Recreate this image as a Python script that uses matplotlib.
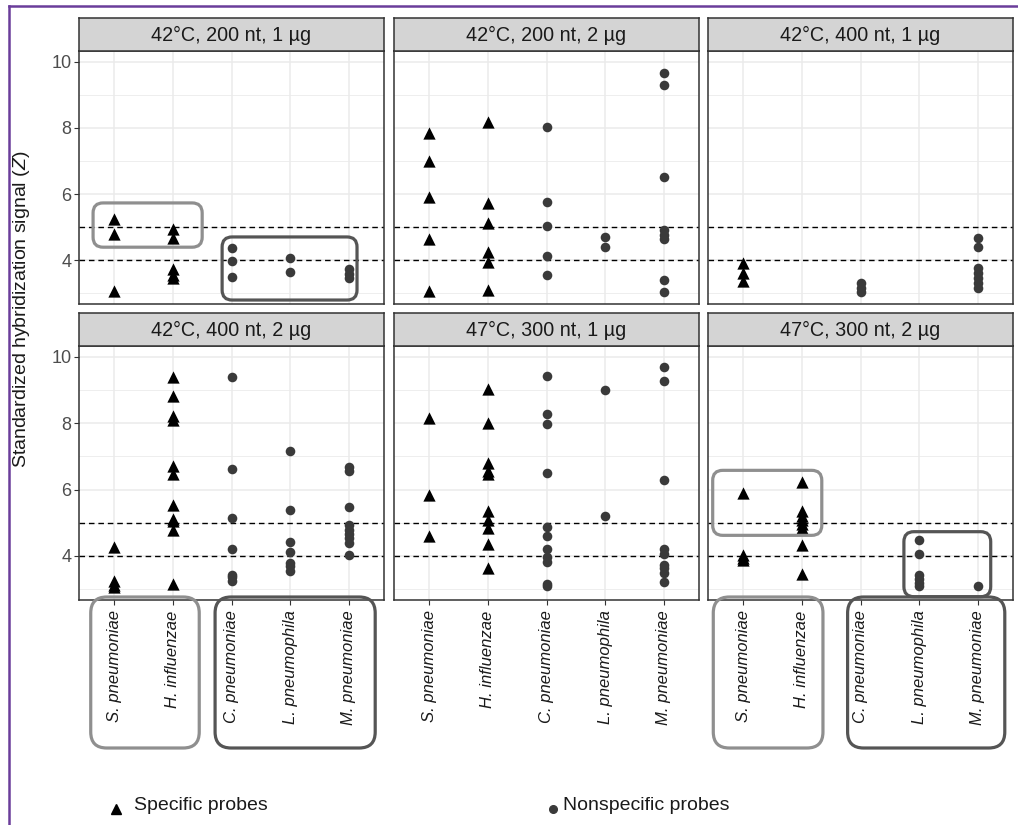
import matplotlib
matplotlib.use("Agg")
import matplotlib.pyplot as plt
from matplotlib.patches import FancyBboxPatch
from matplotlib.lines import Line2D
from matplotlib.transforms import IdentityTransform

plt.rcParams["font.family"] = ["Liberation Sans", "DejaVu Sans"]
plt.rcParams["mathtext.fontset"] = "custom"
plt.rcParams["mathtext.rm"] = "Liberation Sans"
plt.rcParams["mathtext.it"] = "Liberation Sans:italic"

W, H = 1018, 825

# species on the x axis; first two carry specific probes
SPECIES = ["S. pneumoniae", "H. influenzae", "C. pneumoniae",
           "L. pneumophila", "M. pneumoniae"]
SPECIFIC = [True, True, False, False, False]

CONDITIONS = ["42°C, 200 nt, 1 µg", "42°C, 200 nt, 2 µg", "42°C, 400 nt, 1 µg",
              "42°C, 400 nt, 2 µg", "47°C, 300 nt, 1 µg", "47°C, 300 nt, 2 µg"]

# standardized hybridization signal Z, one list per species
z_42_200_1 = [[5.25, 4.78, 3.05],
              [4.94, 4.67, 3.73, 3.55, 3.45],
              [4.36, 3.97, 3.48],
              [4.06, 3.64],
              [3.73, 3.58, 3.45]]
z_42_200_2 = [[7.85, 7.0, 5.91, 4.64, 3.06],
              [8.18, 5.73, 5.12, 4.24, 3.94, 3.09],
              [8.03, 5.76, 5.03, 4.12, 3.55],
              [4.70, 4.39],
              [9.67, 9.30, 6.52, 4.91, 4.76, 4.64, 3.39, 3.03]]
z_42_400_1 = [[3.9, 3.62, 3.38],
              [],
              [3.3, 3.15, 3.03],
              [],
              [4.67, 4.39, 3.76, 3.6, 3.45, 3.3, 3.15]]
z_42_400_2 = [[4.26, 3.25, 3.13, 3.05],
              [9.41, 8.82, 8.23, 8.09, 6.71, 6.48, 5.55, 5.11, 5.04, 4.77, 3.15],
              [9.39, 6.63, 5.14, 4.2, 3.43, 3.35, 3.25],
              [7.17, 5.39, 4.43, 4.12, 3.79, 3.69, 3.55],
              [6.68, 6.56, 5.46, 4.94, 4.77, 4.65, 4.53, 4.40, 4.04]]
z_47_300_1 = [[8.16, 5.84, 4.6],
              [9.04, 8.02, 6.80, 6.55, 6.46, 5.34, 5.09, 4.85, 4.37, 3.63],
              [9.43, 8.29, 7.98, 6.51, 4.88, 4.6, 4.2, 3.96, 3.82, 3.15, 3.08],
              [8.99, 5.21],
              [9.71, 9.27, 6.30, 4.20, 4.07, 3.74, 3.62, 3.48, 3.2]]
z_47_300_2 = [[5.90, 4.02, 3.94, 3.89],
              [6.23, 5.36, 5.21, 5.08, 4.96, 4.84, 4.33, 3.46],
              [],
              [4.47, 4.06, 3.43, 3.30, 3.18, 3.08],
              [3.10]]
PANEL_DATA = [z_42_200_1, z_42_200_2, z_42_400_1, z_42_400_2, z_47_300_1, z_47_300_2]

THRESHOLDS = [4, 5]

LIGHT = "#8f8f8f"
DARK = "#555555"

# highlight boxes inside panels: (panel, x0, x1, y0, y1, colour)
INNER_BOXES = [(0, 0.64, 2.50, 4.39, 5.73, LIGHT),
               (0, 2.84, 5.14, 2.79, 4.70, DARK),
               (5, 0.48, 2.34, 4.62, 6.58, LIGHT),
               (5, 3.74, 5.22, 2.77, 4.73, DARK)]
# boxes around tick labels: (panel, x0, x1, colour)
LABEL_BOXES = [(3, 0.60, 2.45, LIGHT), (3, 2.72, 5.45, DARK),
               (5, 0.49, 2.36, LIGHT), (5, 2.78, 5.46, DARK)]

fig = plt.figure(figsize=(W / 100, H / 100), dpi=100)

col_left = [79, 394, 708]
rows = [(51, 304), (346, 600)]
panel_w = 305
strip_h = 33


def px_box(x0, y0, x1, y1, color, r, lw=2.3):
    """Rounded rectangle from display-pixel corners."""
    p = FancyBboxPatch((x0, y0), x1 - x0, y1 - y0,
                       boxstyle=f"round,pad=0,rounding_size={r}",
                       fc="none", ec=color, lw=lw,
                       transform=IdentityTransform(), zorder=10)
    fig.add_artist(p)


axes = []
for i, cond in enumerate(CONDITIONS):
    r, c = divmod(i, 3)
    top, bot = rows[r]
    ax = fig.add_axes([col_left[c] / W, 1 - bot / H, panel_w / W, (bot - top) / H])
    axes.append(ax)
    ax.set_xlim(0.4, 5.6)
    ax.set_ylim(2.67, 10.33)
    ax.set_xticks(range(1, 6))
    ax.set_yticks([4, 6, 8, 10])
    ax.set_yticks([3, 5, 7, 9], minor=True)
    ax.grid(which="major", color="#ebebeb", lw=1.1, zorder=0)
    ax.grid(which="minor", axis="y", color="#ebebeb", lw=0.6, zorder=0)
    ax.set_axisbelow(True)
    for s in ax.spines.values():
        s.set_color("#333333")
        s.set_linewidth(1.1)
    ax.tick_params(which="minor", length=0)
    ax.tick_params(which="major", length=3.5, color="#333333", width=0.8,
                   labelsize=13, labelcolor="#4d4d4d", pad=2)

    for y in THRESHOLDS:
        ax.axhline(y, color="black", lw=1.0, ls=(0, (4, 2.8)), zorder=2)

    for k, vals in enumerate(PANEL_DATA[i]):
        if not vals:
            continue
        xs = [k + 1] * len(vals)
        if SPECIFIC[k]:
            ax.scatter(xs, vals, marker="^", s=78, c="black", lw=0, zorder=3)
        else:
            ax.scatter(xs, vals, marker="o", s=48, c="#3a3a3a", lw=0, zorder=3)

    if c == 0:
        ax.set_yticklabels(["4", "6", "8", "10"])
    else:
        ax.tick_params(axis="y", left=False, labelleft=False)
    if r == 1:
        ax.set_xticklabels(SPECIES, rotation=90, fontstyle="italic",
                           fontsize=12, color="#1a1a1a")
        ax.tick_params(axis="x", pad=4)
    else:
        ax.tick_params(axis="x", bottom=False, labelbottom=False)

    # facet strip
    sx = fig.add_axes([col_left[c] / W, 1 - top / H, panel_w / W, strip_h / H])
    sx.set_facecolor("#d4d4d4")
    sx.set_xticks([])
    sx.set_yticks([])
    for s in sx.spines.values():
        s.set_color("#333333")
        s.set_linewidth(1.1)
    sx.text(0.5, 0.48, cond, ha="center", va="center", fontsize=14.2,
            color="#1a1a1a", transform=sx.transAxes)

# highlight boxes
for p, x0, x1, y0, y1, col in INNER_BOXES:
    tr = axes[p].transData
    (a, b), (d, e) = tr.transform([(x0, y0), (x1, y1)])
    px_box(a, b, d, e, col, r=10)

for p, x0, x1, col in LABEL_BOXES:
    tr = axes[p].transData
    a = tr.transform((x0, 3))[0]
    d = tr.transform((x1, 3))[0]
    px_box(a, H - 748, d, H - 597, col, r=16)

fig.text(22 / W, 1 - 309 / H, "Standardized hybridization signal ($\\mathit{Z}$)",
         rotation=90, ha="center", va="center", fontsize=14, color="#1a1a1a")

# legend
fig.add_artist(Line2D([116 / W], [1 - 809 / H], marker="^", ms=7.5, color="black",
                      lw=0, transform=fig.transFigure))
fig.text(134 / W, 1 - 806 / H, "Specific probes", ha="left", va="center",
         fontsize=14, color="#1a1a1a")
fig.add_artist(Line2D([553 / W], [1 - 809 / H], marker="o", ms=5.5, color="#3a3a3a",
                      lw=0, transform=fig.transFigure))
fig.text(563 / W, 1 - 806 / H, "Nonspecific probes", ha="left", va="center",
         fontsize=14, color="#1a1a1a")

# purple frame
purple = "#6a3d9a"
fig.add_artist(Line2D([9 / W, 1], [1 - 6 / H, 1 - 6 / H], color=purple, lw=1.8,
                      transform=fig.transFigure))
fig.add_artist(Line2D([9 / W, 9 / W], [0, 1 - 6 / H], color=purple, lw=1.8,
                      transform=fig.transFigure))

fig.savefig("out.png", dpi=100)
